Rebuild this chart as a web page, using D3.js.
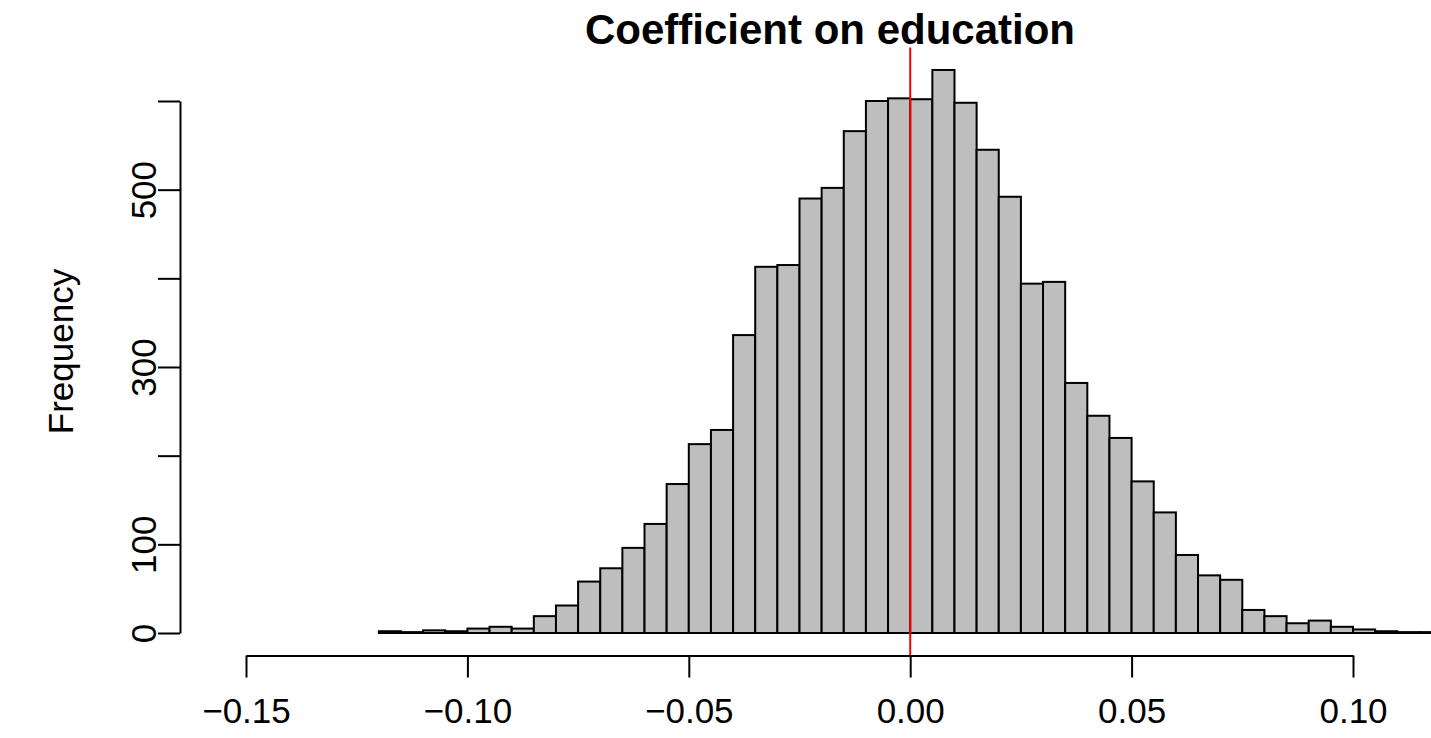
<!DOCTYPE html>
<html>
<head>
<meta charset="utf-8">
<script src="https://cdn.jsdelivr.net/npm/d3@7"></script>
<style>
  html, body { margin: 0; padding: 0; background: #fff; }
  svg { display: block; }
  text { font-family: "Liberation Sans", Arial, Helvetica, sans-serif; fill: #000; }
</style>
</head>
<body>
<svg id="chart" width="1431" height="738"></svg>
<script>
// ---- Data ----
const binLeft = [-0.120,-0.115,-0.110,-0.105,-0.100,-0.095,-0.090,-0.085,-0.080,-0.075,
                 -0.070,-0.065,-0.060,-0.055,-0.050,-0.045,-0.040,-0.035,-0.030,-0.025,
                 -0.020,-0.015,-0.010,-0.005, 0.000, 0.005, 0.010, 0.015, 0.020, 0.025,
                  0.030, 0.035, 0.040, 0.045, 0.050, 0.055, 0.060, 0.065, 0.070, 0.075,
                  0.080, 0.085, 0.090, 0.095, 0.100, 0.105, 0.110, 0.115];
const binRight = [-0.115,-0.110,-0.105,-0.100,-0.095,-0.090,-0.085,-0.080,-0.075,-0.070,
                  -0.065,-0.060,-0.055,-0.050,-0.045,-0.040,-0.035,-0.030,-0.025,-0.020,
                  -0.015,-0.010,-0.005, 0.000, 0.005, 0.010, 0.015, 0.020, 0.025, 0.030,
                   0.035, 0.040, 0.045, 0.050, 0.055, 0.060, 0.065, 0.070, 0.075, 0.080,
                   0.085, 0.090, 0.095, 0.100, 0.105, 0.110, 0.115, 0.120];
const counts = [2,1,3,2,5,7,5,19,31,58,
                73,96,123,168,213,229,336,413,415,490,
                502,566,600,603,602,635,598,545,492,394,
                396,282,245,220,171,136,88,65,60,26,
                19,11,14,7,4,2,1,1];
const xTicks = [-0.15,-0.10,-0.05,0.00,0.05,0.10];
const yTicks = [0,100,200,300,400,500,600];
const yTickLabels = [0,100,300,500];
const refLine = 0;
const title = "Coefficient on education";
const yTitle = "Frequency";

// ---- Scales ----
const svg = d3.select("#chart");
const x = d3.scaleLinear().domain([-0.15, 0.10]).range([246, 1353]);
const y = d3.scaleLinear().domain([0, 600]).range([633, 101]);
const plotTop = 47.5, plotBottom = 655.5;

// ---- Bars ----
const bins = counts.map((c, i) => ({x0: binLeft[i], x1: binRight[i], n: c}));
svg.append("g").selectAll("rect").data(bins).join("rect")
  .attr("x", d => x(d.x0))
  .attr("y", d => y(d.n))
  .attr("width", d => x(d.x1) - x(d.x0))
  .attr("height", d => y(0) - y(d.n))
  .attr("fill", "#BEBEBE")
  .attr("stroke", "#000")
  .attr("stroke-width", 2);

// ---- Reference line ----
svg.append("line")
  .attr("x1", x(refLine)).attr("x2", x(refLine))
  .attr("y1", plotTop).attr("y2", plotBottom)
  .attr("stroke", "#FF0000").attr("stroke-width", 2);

// ---- X axis ----
const fmt = d3.format(".2f");
const xAxis = svg.append("g")
  .attr("transform", `translate(0,${plotBottom})`)
  .call(d3.axisBottom(x).tickValues(xTicks).tickSize(22).tickSizeOuter(0).tickFormat(fmt));
xAxis.select(".domain").attr("stroke", "#000").attr("stroke-width", 2);
xAxis.selectAll(".tick line").attr("stroke", "#000").attr("stroke-width", 2);
xAxis.selectAll(".tick text")
  .attr("y", 43).attr("dy", "0.71em")
  .style("font-size", "35px")
  .style("font-family", '"Liberation Sans", Arial, sans-serif')
  .attr("fill", "#000");

// ---- Y axis ----
const yAxis = svg.append("g")
  .attr("transform", "translate(180,0)")
  .call(d3.axisLeft(y).tickValues(yTicks).tickSize(22).tickSizeOuter(0)
    .tickFormat(d => yTickLabels.includes(d) ? String(d) : ""));
yAxis.select(".domain").attr("stroke", "#000").attr("stroke-width", 2);
yAxis.selectAll(".tick line").attr("stroke", "#000").attr("stroke-width", 2);
yAxis.selectAll(".tick text")
  .attr("x", null).attr("dy", "0.36em")
  .attr("text-anchor", "middle")
  .attr("transform", "translate(-37,0) rotate(-90)")
  .style("font-size", "35px")
  .style("font-family", '"Liberation Sans", Arial, sans-serif')
  .attr("fill", "#000");

// ---- Titles ----
svg.append("text")
  .attr("x", 830).attr("y", 44)
  .attr("text-anchor", "middle")
  .style("font-size", "42px").style("font-weight", "bold")
  .text(title);

svg.append("text")
  .attr("transform", `translate(73,${(plotTop + plotBottom) / 2}) rotate(-90)`)
  .attr("text-anchor", "middle")
  .style("font-size", "35px")
  .text(yTitle);
</script>
</body>
</html>
